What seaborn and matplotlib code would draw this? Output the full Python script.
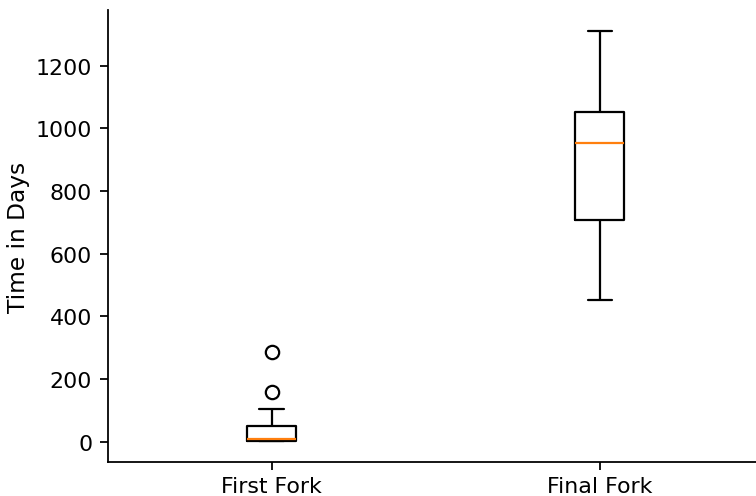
import matplotlib
matplotlib.use("Agg")
import matplotlib.pyplot as plt
import seaborn as sns
import pandas as pd

categories = ["First Fork", "Final Fork"]
first_fork_days = [1, 2, 2, 3, 5, 8, 10, 20, 35, 51, 105, 159, 287]
final_fork_days = [453, 709, 954, 1053, 1312]

df = pd.DataFrame({
    "fork": [categories[0]] * len(first_fork_days) + [categories[1]] * len(final_fork_days),
    "days": first_fork_days + final_fork_days,
})

sns.set_style("ticks")
plt.rcParams["font.family"] = ["DejaVu Sans"]
plt.rcParams["text.color"] = "black"
plt.rcParams["axes.labelcolor"] = "black"

fig = plt.figure(figsize=(5.04, 3.3133), dpi=150)
ax = fig.add_axes([0.1425, 0.0684, 0.8575, 0.9095])

s = 1.067
w = 0.15
lw = 1.0 * s
sns.boxplot(
    data=df, x="fork", y="days", order=categories, ax=ax,
    width=w, fill=False, color="black", linewidth=lw,
    whis=1.5, capwidths=w / 2,
    medianprops=dict(color="#ff7f0e", linewidth=lw),
    flierprops=dict(marker="o", markersize=6 * s, markerfacecolor="none",
                    markeredgecolor="black", markeredgewidth=lw),
    boxprops=dict(color="black", linewidth=lw),
    whiskerprops=dict(color="black", linewidth=lw),
    capprops=dict(color="black", linewidth=lw),
)

ax.set_xlim(-0.5, 1.476)
ax.set_ylim(-64.5, 1377.5)
ax.set_yticks([0, 200, 400, 600, 800, 1000, 1200])
ax.set_xlabel("")
ax.set_ylabel("Time in Days", fontsize=11.2, color="black", labelpad=2.6)
ax.tick_params(axis="y", labelsize=10.6, length=3.5 * s, width=0.8 * s,
               colors="black", pad=3.5 * s)
ax.tick_params(axis="x", labelsize=10.6, length=3.5 * s, width=0.8 * s,
               colors="black", pad=3.0)
for sp in ["top", "right"]:
    ax.spines[sp].set_visible(False)
for sp in ["left", "bottom"]:
    ax.spines[sp].set_linewidth(0.8 * s)
    ax.spines[sp].set_color("black")

fig.savefig("out.png", dpi=150)
